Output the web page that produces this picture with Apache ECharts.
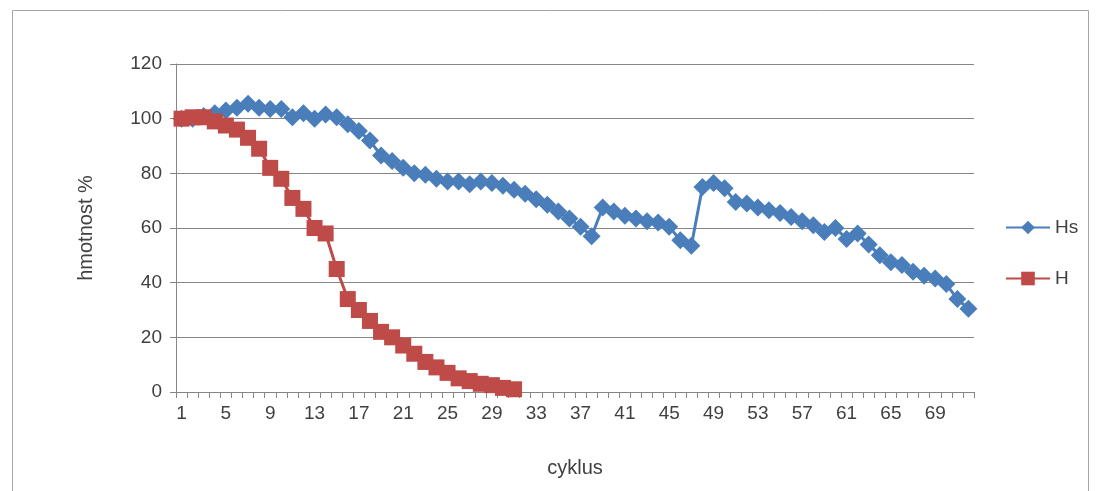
<!DOCTYPE html>
<html>
<head>
<meta charset="utf-8">
<script src="https://cdn.jsdelivr.net/npm/echarts@6/dist/echarts.min.js"></script>
<style>
  html, body { margin: 0; padding: 0; background: #fff; }
  #chart { width: 1100px; height: 491px; }
</style>
</head>
<body>
<div id="chart"></div>
<script>
// cykly 1..72
const cycles = []
for (let i = 1; i <= 72; i++) cycles.push(String(i))

// Hs - hmotnost %
const hsData = [
  100, 100, 101, 102, 103, 104, 105.5, 104, 103.5, 103.5,
  100.5, 102, 100, 101.5, 100.5, 98, 95.5, 92, 86.5, 84.5,
  82, 80, 79.5, 78, 77, 77, 76, 77, 76.5, 75.5,
  74, 72.5, 70.5, 68.5, 66, 63.5, 60.5, 57, 67.5, 66,
  64.5, 63.5, 62.5, 62, 60.5, 55.5, 53.5, 75, 76.5, 74.5,
  69.5, 69, 67.5, 66.5, 65.5, 64, 62.5, 61, 58.5, 60,
  56, 58, 54, 50, 47.5, 46.5, 44, 42.5, 41.5, 39.5,
  34, 30.5
]

// H - hmotnost %
const hData = [
  100, 100.5, 100.5, 99, 97.5, 96, 93, 89, 82, 78,
  71, 67, 60, 58, 45, 34, 30, 26, 22, 20,
  17, 14, 11, 9, 7, 5, 4, 3, 2.5, 1.5,
  1
]

const yTicks = [0, 20, 40, 60, 80, 100, 120]

const font = 'Liberation Sans'
const txt = '#404040'

const myEcharts = echarts.init(document.getElementById('chart'), null, { renderer: 'canvas' })
const option = {
  animation: false,
  textStyle: { fontFamily: font },
  graphic: [
    {
      type: 'rect',
      shape: { x: 12.5, y: 10.5, width: 1076, height: 490 },
      style: { fill: 'none', stroke: '#a6a6a6', lineWidth: 1 },
      silent: true
    }
  ],
  grid: { left: 176, right: 126, top: 64, bottom: 99 },
  legend: {
    orient: 'vertical',
    left: 1000,
    top: 213,
    itemGap: 32,
    itemWidth: 44,
    itemHeight: 17,
    textStyle: { fontFamily: font, fontSize: 19, color: txt },
    data: ['Hs', 'H']
  },
  xAxis: {
    type: 'category',
    data: cycles,
    boundaryGap: true,
    name: 'cyklus',
    nameLocation: 'middle',
    nameGap: 66,
    nameTextStyle: { fontFamily: font, fontSize: 20, color: txt },
    axisLine: { lineStyle: { color: '#868686', width: 1 } },
    axisTick: { show: true, interval: 0, length: 6, lineStyle: { color: '#868686' } },
    axisLabel: { interval: 3, fontSize: 19, color: txt, margin: 12, fontFamily: font },
    splitLine: { show: false }
  },
  yAxis: {
    type: 'value',
    min: yTicks[0],
    max: yTicks[yTicks.length - 1],
    interval: 20,
    name: 'hmotnost %',
    nameLocation: 'middle',
    nameGap: 80,
    nameRotate: 90,
    nameTextStyle: { fontFamily: font, fontSize: 20, color: txt },
    axisLine: { show: true, lineStyle: { color: '#868686', width: 1 } },
    axisTick: { show: true, length: 6, lineStyle: { color: '#868686' } },
    axisLabel: { fontSize: 19, color: txt, margin: 14, fontFamily: font },
    splitLine: { lineStyle: { color: '#868686', width: 1 } }
  },
  series: [
    {
      name: 'Hs',
      type: 'line',
      data: hsData,
      symbol: 'diamond',
      symbolSize: 18,
      showAllSymbol: true,
      lineStyle: { color: '#4a7ebb', width: 3 },
      itemStyle: { color: '#4a7ebb' },
      z: 2
    },
    {
      name: 'H',
      type: 'line',
      data: hData,
      symbol: 'rect',
      symbolSize: 16,
      showAllSymbol: true,
      lineStyle: { color: '#be4b48', width: 3 },
      itemStyle: { color: '#be4b48' },
      z: 3
    }
  ]
}
myEcharts.setOption(option)
</script>
</body>
</html>
